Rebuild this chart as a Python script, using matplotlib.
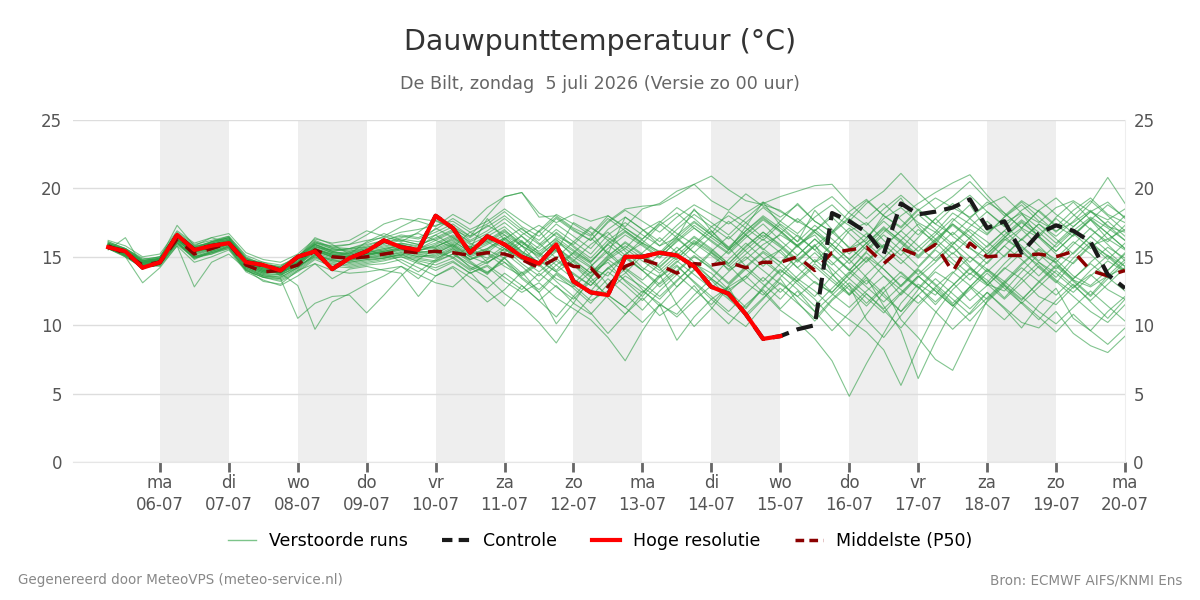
import numpy as np
import matplotlib
matplotlib.use("Agg")
import matplotlib.pyplot as plt
from matplotlib.lines import Line2D

plt.rcParams['font.family'] = ['DejaVu Sans']

# ---------------- data ----------------
day_names = ["ma", "di", "wo", "do", "vr", "za", "zo", "ma", "di", "wo", "do", "vr", "za", "zo", "ma"]
day_dates = ["06-07", "07-07", "08-07", "09-07", "10-07", "11-07", "12-07", "13-07",
             "14-07", "15-07", "16-07", "17-07", "18-07", "19-07", "20-07"]

hires = [15.7, 15.4, 14.2, 14.6, 16.6, 15.5, 15.8, 16.0, 14.6, 14.4, 14.0, 15.0, 15.4, 14.1, 14.9,
         15.4, 16.2, 15.7, 15.5, 18.0, 17.1, 15.3, 16.5, 15.9, 15.0, 14.5, 15.9, 13.2, 12.4, 12.2,
         15.0, 15.0, 15.3, 15.1, 14.3, 12.8, 12.3, 10.8, 9.0, 9.2]

control = [15.7, 15.4, 14.2, 14.6, 16.6, 15.5, 15.8, 16.0, 14.6, 14.4, 14.0, 15.0, 15.4, 14.1, 14.9,
           15.4, 16.2, 15.7, 15.5, 18.0, 17.1, 15.3, 16.5, 15.9, 15.0, 14.5, 15.9, 13.2, 12.4, 12.2,
           15.0, 15.0, 15.3, 15.1, 14.3, 12.8, 12.3, 10.8, 9.0, 9.2, 9.7, 10.0, 18.2, 17.6, 16.8,
           15.2, 18.9, 18.1, 18.3, 18.6, 19.2, 17.1, 17.6, 15.3, 16.7, 17.3, 16.9, 16.1, 13.7, 12.7]

median = [15.8, 15.2, 14.4, 14.6, 16.3, 15.2, 15.6, 16.0, 14.4, 13.9, 14.0, 14.4, 15.5, 15.0, 14.9,
          15.0, 15.2, 15.4, 15.3, 15.4, 15.3, 15.1, 15.3, 15.2, 14.8, 14.2, 14.9, 14.3, 14.2, 12.8,
          14.3, 14.8, 14.4, 13.8, 14.5, 14.4, 14.6, 14.2, 14.6, 14.6, 15.0, 14.0, 15.3, 15.5, 15.7,
          14.5, 15.6, 15.1, 15.9, 13.9, 16.0, 15.0, 15.1, 15.1, 15.2, 15.0, 15.4, 14.0, 13.6, 14.0]

runs = [
    [15.9,15.4,14.6,14.8,16.5,15.6,15.9,16.2,14.6,14.1,13.8,14.6,15.8,15.3,15.2,15.4,15.6,15.9,15.6,16.2,16.8,15.9,16.5,17.2,16.1,15.4,16.3,15.0,14.2,13.6,15.2,16.0,15.4,14.8,16.1,15.3,14.0,14.8,15.9,16.6,15.8,14.6,15.3,16.9,17.5,16.2,15.1,16.4,17.8,16.5,15.6,14.9,16.2,17.1,16.4,15.2,14.5,15.8,16.3,15.5],
    [15.6,15.0,14.2,14.5,16.1,14.8,15.4,15.8,14.2,13.6,13.5,14.2,15.2,14.7,14.6,14.8,14.9,15.1,14.8,14.6,15.2,14.3,13.8,14.9,13.5,12.6,13.8,12.9,11.8,12.5,13.6,12.8,11.9,13.2,14.5,13.8,12.6,13.4,14.8,15.5,14.2,13.1,12.4,13.8,14.9,13.6,12.2,13.5,14.6,15.8,14.3,13.0,12.5,13.9,15.2,14.6,13.3,12.8,13.6,14.2],
    [16.1,15.6,14.8,15.0,16.8,15.9,16.2,16.5,15.1,14.6,14.4,14.9,16.0,15.8,15.9,16.2,16.4,16.8,17.0,17.3,17.6,16.8,17.4,18.3,17.2,16.5,17.8,16.9,16.2,17.5,18.4,17.6,16.8,17.9,18.8,18.1,17.4,18.2,19.0,18.3,17.6,16.9,18.1,17.3,16.4,17.8,18.6,17.5,16.8,18.2,17.4,16.6,17.9,18.8,17.6,16.9,17.5,18.4,17.2,16.8],
    [15.7,15.1,14.3,14.4,16.0,15.0,15.3,15.6,14.0,13.5,13.4,10.5,11.6,12.1,12.2,10.9,12.2,13.6,14.8,15.6,14.9,15.8,14.6,15.3,16.2,14.8,13.9,14.7,15.9,16.8,15.4,14.2,13.5,14.6,15.8,16.9,15.7,14.3,13.2,14.5,15.9,16.6,15.2,14.1,13.0,14.4,15.6,17.0,16.1,14.8,13.7,15.0,16.3,15.5,14.2,13.1,14.6,15.9,15.1,14.0],
    [15.8,15.3,14.5,14.6,16.2,15.3,15.7,16.1,14.5,13.9,13.8,12.9,9.7,11.7,12.3,13.0,13.6,14.3,13.4,14.7,15.5,14.6,13.7,14.9,15.8,14.4,13.2,12.1,13.5,14.8,13.9,12.6,11.4,12.8,14.1,13.3,12.0,11.2,12.7,14.0,13.2,12.1,13.6,14.8,13.5,12.3,11.0,12.6,13.9,13.1,11.8,12.9,14.2,13.4,12.1,11.5,12.8,13.7,12.6,11.9],
    [15.9,15.5,14.7,14.9,16.6,15.4,16.1,16.4,14.9,14.3,14.1,15.0,16.2,15.7,15.9,16.6,17.4,17.8,17.6,17.2,18.1,17.4,18.6,19.4,19.7,18.2,17.5,18.1,17.6,18.0,17.2,18.5,18.9,19.8,20.3,19.1,18.4,19.6,18.7,17.9,18.8,17.6,16.8,18.3,19.2,18.0,17.1,18.4,19.3,18.6,17.9,18.8,19.4,18.2,17.5,18.6,19.1,18.3,17.7,18.5],
    [15.7,15.2,14.4,14.7,16.3,15.1,15.5,15.9,14.3,13.8,13.7,14.3,15.1,14.8,14.5,14.7,14.9,15.2,14.6,14.0,14.6,13.8,14.3,13.2,12.4,13.1,12.0,11.2,10.4,9.1,7.4,9.6,11.5,10.8,12.2,13.4,12.5,11.3,12.8,14.1,13.0,11.9,10.5,9.2,10.8,12.4,13.6,12.8,11.5,12.9,14.2,13.3,12.0,13.4,14.6,13.8,12.7,14.0,15.1,14.3],
    [15.8,15.3,14.5,14.7,16.4,15.5,15.8,16.1,14.4,13.9,13.9,14.5,15.6,15.1,14.9,15.1,15.3,15.5,15.2,15.0,15.6,14.8,15.2,14.3,13.6,14.5,13.4,12.8,13.9,14.6,13.2,12.1,13.5,14.4,13.1,11.9,12.8,13.6,12.4,11.1,10.2,9.0,7.4,4.8,7.2,9.4,11.6,13.0,12.2,13.8,15.0,14.1,13.2,14.5,15.6,14.8,13.6,12.9,14.0,15.2],
    [15.6,15.1,14.3,14.5,16.1,15.0,15.4,15.7,14.1,13.6,13.6,14.4,15.3,14.9,14.8,14.9,15.0,15.3,15.0,15.2,15.9,15.0,14.5,15.6,14.8,13.9,14.9,13.7,12.9,14.2,15.1,14.0,12.8,13.9,15.0,14.2,13.1,14.3,15.4,14.6,13.4,12.5,11.3,10.4,9.5,8.2,5.6,8.4,10.9,12.6,13.8,12.9,14.1,15.3,14.4,13.3,12.4,13.6,14.7,13.9],
    [16.0,15.5,14.6,14.8,16.6,15.7,16.0,16.3,14.7,14.2,14.0,14.7,15.9,15.4,15.1,15.3,15.5,15.8,15.5,15.8,16.2,15.3,15.9,16.6,15.4,14.6,15.7,14.8,13.8,15.0,16.1,15.2,14.3,15.4,16.5,15.6,14.5,15.8,16.8,15.9,14.8,15.9,13.8,12.2,13.5,11.4,9.6,6.1,8.8,11.2,12.8,14.1,13.0,14.4,15.5,14.5,13.4,14.6,15.7,14.9],
    [15.9,15.4,14.5,14.9,16.7,15.8,16.0,16.3,14.8,14.2,14.2,14.9,15.9,15.5,15.4,15.7,16.0,16.3,16.1,16.6,17.2,16.2,16.9,17.8,16.8,15.9,17.0,16.1,15.2,16.6,17.5,16.6,15.8,17.0,18.1,17.2,16.3,17.5,18.6,17.6,16.7,17.9,18.8,17.6,18.9,19.8,21.1,19.7,18.5,19.4,20.5,19.2,18.0,19.1,18.3,17.2,18.4,19.3,18.1,17.5],
    [15.7,15.2,14.4,14.6,16.2,15.2,15.6,16.0,14.3,13.8,13.9,14.6,15.4,15.0,15.0,15.2,15.4,15.7,15.4,15.9,16.5,15.6,16.2,17.0,15.8,15.1,16.1,15.2,14.3,15.6,16.6,15.8,14.9,16.2,17.3,16.4,15.5,16.7,17.8,16.9,15.8,16.9,17.9,16.7,15.5,16.8,18.0,18.9,19.7,20.4,21.0,19.5,18.2,17.1,18.4,19.3,18.1,17.0,16.1,17.3],
    [15.8,15.3,14.6,14.8,16.4,15.5,15.7,16.1,14.6,14.0,13.9,14.3,15.5,15.2,14.8,15.1,15.3,15.6,15.3,15.5,16.0,15.2,15.6,16.4,15.3,14.5,15.6,14.6,13.6,14.9,15.8,14.9,14.0,15.1,16.2,15.4,14.3,15.5,16.6,15.7,14.6,15.8,16.8,15.7,14.6,15.8,16.9,15.8,14.7,15.9,17.0,16.1,15.0,16.3,17.4,16.5,17.6,18.9,20.8,18.9],
    [16.0,15.6,14.7,15.0,16.7,15.6,16.1,16.4,14.8,14.3,14.2,14.8,16.0,15.6,15.5,15.8,16.2,16.6,16.4,17.0,17.8,17.0,17.6,18.5,17.6,16.8,17.9,17.0,16.2,17.6,18.5,18.7,18.8,19.5,20.3,20.9,19.9,19.1,18.8,18.4,17.5,18.6,19.4,18.2,17.3,18.5,19.5,18.4,17.4,18.6,19.5,18.3,17.2,18.4,19.2,18.1,17.2,18.3,19.0,17.8],
    [15.9,15.4,14.5,14.8,16.5,15.5,15.9,16.2,14.6,14.1,14.1,14.7,15.7,15.5,15.6,16.0,16.5,17.2,17.8,17.6,17.2,16.5,18.0,19.4,19.7,17.9,18.0,17.1,16.5,17.8,16.9,16.0,17.3,18.2,17.1,16.2,15.3,16.6,17.7,16.8,15.7,16.8,15.9,14.8,16.0,17.1,16.2,15.1,16.3,17.4,16.5,15.4,16.6,17.7,16.8,15.7,16.9,17.9,17.1,16.2],
    [15.6,15.1,14.2,14.4,15.9,14.9,15.3,15.7,14.0,13.5,13.2,13.9,14.8,14.3,14.2,14.4,14.5,14.8,14.2,13.6,14.3,13.5,12.7,13.8,12.9,11.8,12.9,11.6,10.8,12.2,11.3,10.2,11.5,8.9,10.6,11.9,10.8,9.9,11.4,12.7,11.6,10.5,11.9,13.1,12.0,10.9,12.3,13.6,12.5,11.4,12.8,14.0,12.9,11.8,13.2,14.4,13.3,12.2,13.6,14.8],
    [15.7,15.2,14.4,14.6,16.3,15.4,15.6,15.9,14.4,13.9,13.8,14.5,15.5,15.0,14.9,15.0,15.1,15.4,15.1,14.9,15.4,14.2,13.5,12.3,11.4,10.2,8.7,10.6,12.1,13.4,12.3,11.1,12.5,13.7,12.6,11.5,12.9,14.1,13.0,11.9,13.3,14.5,13.4,12.3,13.7,14.9,13.8,12.7,14.1,15.3,14.2,13.1,14.5,15.7,14.6,13.5,14.9,16.1,15.0,13.9],
    [15.8,15.4,14.6,14.8,16.4,15.3,15.8,16.2,14.5,14.0,13.8,14.4,15.6,15.2,15.0,15.2,15.4,15.6,15.4,15.3,15.8,15.0,15.5,16.3,15.2,14.3,15.4,14.4,13.5,14.8,15.6,14.7,13.8,14.9,16.0,15.1,14.1,15.2,16.3,15.3,14.2,15.3,14.1,12.9,11.6,12.8,10.4,9.1,7.5,6.7,9.3,11.8,13.0,11.9,13.1,14.3,13.2,12.1,13.4,14.6],
    [15.7,15.2,14.3,14.6,16.2,15.2,15.5,15.9,14.2,13.7,13.7,14.2,15.2,14.8,14.7,14.9,15.1,15.3,15.0,15.1,15.7,14.8,15.3,14.6,13.7,14.6,15.5,14.4,13.2,14.1,15.0,14.0,13.0,14.0,15.1,14.1,13.0,14.2,15.3,14.3,13.2,14.3,13.2,12.2,13.3,12.1,11.0,12.2,13.4,12.3,11.2,12.4,11.3,10.2,9.8,11.0,9.4,8.5,8.0,9.2],
    [16.0,15.5,14.7,14.9,16.6,15.6,16.0,16.4,14.8,14.2,14.0,14.8,15.9,15.4,15.2,15.5,15.7,16.0,15.8,16.4,17.0,16.0,15.3,16.3,17.1,16.0,14.9,16.1,17.2,16.2,15.1,16.3,17.4,16.4,15.3,16.5,17.6,16.6,15.5,16.7,17.8,16.8,15.7,14.5,15.8,17.0,16.0,14.9,16.1,17.3,16.3,15.2,16.4,17.5,16.5,15.4,16.6,17.7,16.7,15.6],
    [15.8,15.3,14.4,14.7,16.3,15.3,15.6,16.0,14.4,13.9,13.9,14.4,15.4,15.0,14.9,15.0,15.2,15.5,15.2,15.3,15.0,14.1,14.8,15.6,14.5,13.6,14.7,13.8,12.9,14.2,13.3,12.4,13.6,14.7,13.7,12.7,13.9,15.0,14.0,13.0,12.1,13.2,12.3,11.3,12.5,13.6,12.6,11.6,12.8,13.9,12.9,11.9,13.1,14.2,13.2,12.2,13.4,14.5,13.5,12.5],
    [15.9,15.4,14.6,14.8,16.5,15.5,15.9,16.2,14.7,14.1,14.0,14.6,15.7,15.3,15.3,15.5,15.8,16.0,15.7,15.7,16.3,15.5,16.0,16.8,15.8,15.0,16.2,15.4,14.6,16.0,16.9,16.0,15.2,16.4,17.5,16.6,15.7,16.9,18.0,17.1,16.1,17.3,16.3,15.2,16.4,17.6,16.5,15.4,16.6,17.8,16.8,15.7,16.9,18.1,17.1,16.0,17.2,18.3,17.3,16.2],
    [15.6,15.0,14.2,14.5,16.0,14.9,15.3,15.7,14.1,13.6,13.4,14.1,15.0,14.6,14.4,14.6,14.8,15.0,14.7,14.4,14.9,14.0,14.6,15.3,14.3,13.2,14.4,13.4,12.5,13.9,12.9,11.8,13.1,14.3,13.2,12.1,11.0,12.3,13.5,12.4,13.6,14.8,13.7,12.6,11.4,12.7,13.9,12.8,11.7,12.9,14.1,13.0,11.9,13.1,14.3,13.2,12.1,11.0,10.2,11.5],
    [15.8,15.3,14.5,14.7,16.4,15.4,15.7,16.1,14.5,14.0,13.8,14.5,15.6,15.1,15.0,15.2,15.4,15.7,15.6,16.0,16.6,15.7,16.3,15.6,14.8,15.8,16.7,15.7,14.7,15.9,14.9,14.0,15.2,16.3,15.3,14.3,15.5,16.6,15.6,14.6,15.8,17.0,15.9,14.8,16.0,17.2,16.1,15.0,16.2,17.4,16.3,15.2,16.4,17.6,16.5,15.4,16.6,17.8,16.7,15.6],
    [16.0,15.5,14.7,14.9,16.7,15.7,16.1,16.4,14.9,14.3,14.1,14.9,16.1,15.6,15.4,15.6,15.9,16.2,15.9,16.3,16.9,16.1,16.7,17.5,16.5,15.6,16.8,15.8,14.9,16.2,17.1,16.2,15.3,16.6,17.6,16.6,15.6,16.9,17.9,16.9,15.8,14.6,15.9,17.1,16.0,14.9,16.2,17.4,16.3,15.2,16.4,17.6,16.5,15.4,16.6,17.8,16.7,15.6,16.8,18.0],
    [15.7,15.1,14.3,14.5,16.1,15.0,15.4,15.8,14.2,13.7,13.5,14.2,15.1,14.7,14.6,14.8,14.9,15.2,14.9,14.7,15.2,14.5,13.9,14.6,13.4,12.4,13.7,12.7,11.6,13.0,14.1,13.1,12.1,13.3,14.4,13.4,12.4,13.6,14.7,13.7,12.6,11.4,12.7,13.9,12.8,11.7,12.9,14.1,13.0,11.9,10.8,12.0,13.2,12.1,11.0,10.1,11.3,12.5,11.4,10.3],
    [15.9,15.4,14.5,14.8,16.5,15.6,15.9,16.3,14.6,14.1,14.1,14.6,15.8,15.3,15.1,15.3,15.5,15.9,15.5,15.6,16.1,15.4,14.9,15.8,16.5,15.3,14.4,15.3,16.4,15.2,14.1,15.3,16.4,15.3,14.2,15.4,16.5,15.4,14.3,15.5,16.6,15.5,14.4,15.6,16.7,15.6,14.5,15.7,16.8,15.7,14.6,15.8,16.9,15.8,14.7,15.9,17.0,15.9,14.8,16.0],
    [15.6,15.1,14.2,14.4,16.0,14.9,15.2,15.6,14.0,13.5,13.3,14.0,14.9,14.5,14.3,14.5,14.7,15.0,14.5,14.2,14.7,13.8,14.4,13.5,12.6,13.8,12.8,11.9,13.2,12.2,11.3,12.5,11.6,10.6,11.8,12.9,11.9,10.8,12.0,13.1,12.1,11.0,12.2,13.4,12.3,11.2,12.4,13.6,12.5,11.4,12.6,13.8,12.7,11.6,12.8,14.0,12.9,11.8,13.0,14.2],
    [15.8,15.3,14.6,14.8,16.3,15.4,15.7,16.1,14.6,14.0,13.9,14.5,15.5,15.1,15.0,15.2,15.3,15.6,15.3,15.4,15.9,15.1,15.6,16.4,15.4,14.6,15.7,14.7,13.8,15.1,16.0,15.1,14.2,15.4,16.4,15.5,14.5,15.7,16.8,15.8,14.7,15.8,14.6,13.4,14.7,15.9,14.8,13.7,14.9,16.1,15.0,13.9,15.1,16.3,15.2,14.1,15.3,16.5,15.4,14.3],
    [16.1,15.6,14.8,15.0,16.7,15.7,16.1,16.5,15.0,14.4,14.3,15.0,16.1,15.7,15.6,15.9,16.2,16.5,16.3,16.8,17.4,16.5,17.2,18.0,17.0,16.2,17.4,16.5,15.6,17.0,17.9,17.0,16.1,17.3,18.4,17.5,16.6,17.8,18.9,19.4,19.8,20.2,20.3,18.9,17.8,18.9,17.7,16.6,17.8,18.9,17.8,16.7,17.9,19.0,17.9,16.8,18.0,19.1,18.0,16.9],
    [15.5,16.4,14.3,14.9,17.3,15.8,16.4,16.0,14.9,14.5,13.6,14.9,16.4,15.9,15.2,16.1,16.7,16.2,15.9,17.1,16.4,15.6,17.8,16.2,15.1,16.9,15.4,17.5,16.8,15.2,17.9,17.0,15.8,16.4,18.5,16.9,15.5,17.2,19.0,17.3,16.1,18.4,17.0,15.6,16.2,18.1,19.3,17.2,15.9,17.6,18.8,16.9,17.5,18.2,16.4,17.9,19.0,17.7,16.3,17.0],
    [15.9,15.0,13.1,14.2,15.8,12.8,14.6,15.2,14.1,13.2,13.0,14.0,14.5,13.4,14.1,14.3,14.0,13.8,12.1,13.6,14.2,12.9,11.7,12.6,13.9,12.4,10.1,11.6,13.5,12.0,10.8,12.3,13.7,11.5,9.9,11.2,12.8,10.6,11.9,13.4,11.7,10.3,11.8,12.9,10.4,9.1,10.7,12.2,11.0,9.7,10.9,12.4,11.2,9.8,11.5,12.7,10.5,9.6,11.0,12.1],
    [16.2,15.8,15.0,15.2,16.9,16.0,16.4,16.7,15.3,14.8,14.6,15.2,16.3,16.0,16.2,16.9,16.5,16.1,16.8,17.7,17.0,16.4,17.3,16.6,15.8,16.9,18.1,17.4,16.6,18.0,17.1,16.3,17.5,18.6,17.8,16.7,18.3,17.5,16.4,17.6,18.9,17.6,16.8,17.9,19.1,18.0,17.2,18.5,17.4,16.6,17.8,19.0,18.2,17.1,18.4,17.3,16.5,17.7,18.8,17.9],
    [15.6,15.2,14.4,14.3,15.8,14.6,15.0,15.5,13.9,13.3,12.9,13.6,14.5,14.0,13.8,13.9,14.1,14.3,13.7,13.1,12.8,13.9,12.5,11.4,12.9,11.8,10.6,12.1,10.9,9.4,10.8,12.0,10.7,11.6,12.9,11.3,10.1,11.5,12.6,11.2,12.5,11.0,9.6,10.9,12.3,11.1,9.8,11.4,12.7,11.5,10.3,11.7,12.9,11.6,10.4,11.8,13.0,11.7,10.5,11.9],
    [15.8,15.6,14.9,14.7,16.2,15.7,15.5,15.9,14.7,14.4,14.3,15.1,15.9,15.4,15.6,15.7,16.0,16.4,16.7,16.2,15.7,16.8,16.1,15.4,16.6,17.3,16.5,15.9,17.1,16.4,15.6,16.9,17.6,16.7,15.9,17.2,18.0,17.1,16.2,17.4,16.5,15.5,16.7,17.8,16.8,15.7,16.9,18.1,17.0,15.9,17.2,18.3,17.3,16.2,17.4,16.3,15.2,16.5,17.6,16.5],
    [15.7,15.3,14.6,14.9,16.3,15.0,15.2,15.8,14.8,14.6,14.2,14.3,15.0,14.4,14.7,15.1,15.4,14.6,13.9,14.8,15.6,14.7,13.8,15.0,16.1,15.2,14.0,15.3,14.5,12.9,13.8,15.1,14.2,12.8,14.0,15.3,14.4,13.1,12.2,13.5,14.8,13.6,12.4,13.7,15.0,14.1,12.9,14.2,15.5,14.5,13.3,14.6,15.8,14.8,13.6,14.9,16.1,15.2,14.0,15.3],
    [15.9,15.5,14.7,14.8,16.3,15.4,15.7,16.2,14.7,14.2,14.0,14.6,15.6,15.2,15.1,15.3,15.6,15.8,15.5,15.7,16.4,15.6,16.1,16.9,16.0,15.2,16.4,15.5,14.6,15.9,16.8,15.9,15.0,16.1,17.1,16.1,15.2,16.4,17.4,16.2,15.1,16.3,15.2,14.0,15.3,14.1,12.8,14.0,12.9,11.6,12.8,11.5,10.4,11.7,10.6,9.5,10.8,9.6,8.6,9.8],
    [15.8,15.2,14.4,14.6,16.4,15.6,15.8,16.0,14.3,13.8,14.1,14.9,15.5,15.0,15.3,15.6,15.0,15.1,15.7,16.6,15.8,14.8,15.5,14.9,13.8,14.7,13.9,13.0,14.3,15.4,14.2,13.3,14.5,15.7,14.6,13.4,14.8,16.0,14.9,13.8,15.1,16.3,15.1,14.0,15.4,16.6,15.5,14.3,15.6,16.8,15.7,14.5,15.8,17.0,15.8,14.6,15.9,17.1,15.9,14.7],
]

# ---------------- figure ----------------
times = -0.75 + 0.25 * np.arange(len(control))   # days relative to ma 06-07 00:00

fig = plt.figure(figsize=(12, 6), dpi=100)
ax = fig.add_axes([73 / 1200, 1 - 462 / 600, (1125 - 73) / 1200, 342 / 600])

for d in range(0, 14, 2):
    ax.axvspan(d, d + 1, color='#eeeeee', zorder=0, lw=0)

for y in range(0, 26, 5):
    ax.axhline(y, color='#dddddd', lw=1, zorder=0.5)

green = '#2e9e45'
for r in runs:
    ax.plot(times[:len(r)], r, color=green, lw=0.8, alpha=0.6, zorder=2)

ax.plot(times[:len(median)], median, color='#8b0000', lw=2.5, ls=(0, (4, 3)), zorder=3)
ax.plot(times[:len(control)], control, color='#1a1a1a', lw=3, ls=(0, (4, 2)), zorder=4)
ax.plot(times[:len(hires)], hires, color='#ff0000', lw=3, zorder=5)

ax.set_xlim(-1.26, 14)
ax.set_ylim(0, 25)
ax.set_yticks(range(0, 26, 5))
ax.set_xticks(range(15))
ax.set_xticklabels([f"{n}\n{d}" for n, d in zip(day_names, day_dates)], linespacing=1.25)
ax.tick_params(axis='x', length=7, width=2, color='#666666', labelsize=12, labelcolor='#555555', pad=2)
ax.tick_params(axis='y', length=0, labelsize=12, labelcolor='#555555', pad=8)
for s in ['left', 'top']:
    ax.spines[s].set_visible(False)
ax.spines['bottom'].set_color('#e6e6e6')
ax.spines['right'].set_color('#eeeeee')

ax2 = ax.twinx()
ax2.set_ylim(0, 25)
ax2.set_yticks(range(0, 26, 5))
ax2.tick_params(axis='y', length=0, labelsize=12, labelcolor='#555555', pad=6)
for s in ax2.spines.values():
    s.set_visible(False)

fig.text(0.5, 1 - 42 / 600, "Dauwpunttemperatuur (°C)", ha='center', va='center', fontsize=20.5, color='#333333')
fig.text(0.5, 1 - 84 / 600, "De Bilt, zondag  5 juli 2026 (Versie zo 00 uur)", ha='center', va='center',
         fontsize=12.6, color='#666666')

handles = [
    Line2D([], [], color='#7cc48a', lw=1),
    Line2D([], [], color='#1a1a1a', lw=3, ls=(0, (2.5, 1.5))),
    Line2D([], [], color='#ff0000', lw=3),
    Line2D([], [], color='#8b0000', lw=2.5, ls=(0, (2.5, 1.5))),
]
labels = ["Verstoorde runs", "Controle", "Hoge resolutie", "Middelste (P50)"]
fig.legend(handles, labels, loc='center', bbox_to_anchor=(0.5, 1 - 541 / 600), ncol=4, frameon=False,
           fontsize=12.5, handlelength=1.6, columnspacing=2.0, handletextpad=0.75)

fig.text(18 / 1200, 1 - 580 / 600, "Gegenereerd door MeteoVPS (meteo-service.nl)", ha='left', va='center',
         fontsize=9.75, color='#888888')
fig.text(1182 / 1200, 1 - 580 / 600, "Bron: ECMWF AIFS/KNMI Ens", ha='right', va='center',
         fontsize=9.75, color='#888888')

fig.savefig("out.png", dpi=100)
